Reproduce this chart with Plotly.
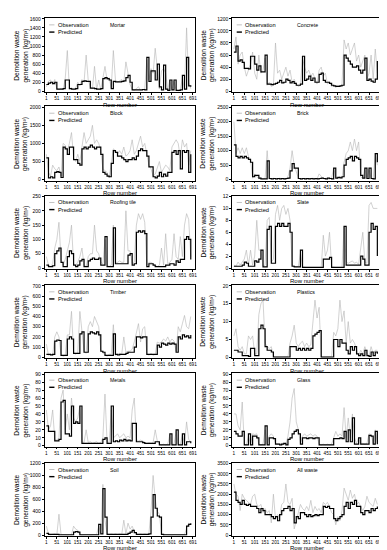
import plotly.graph_objects as go
from plotly.subplots import make_subplots

row_numbers = list(range(1, 692, 10))

mortar_pred = [150,180,200,170,200,50,50,50,60,250, 250,60,50,50,60,150,150,220,230,220, 220,70,70,60,50,50,60,280,300,280, 250,60,220,210,210,210,220,230,300,350, 200,30,30,30,30,30,40,30,750,220, 450,450,250,600,100,30,580,50,20,250, 30,250,20,20,30,350,50,750,120,100]
mortar_obs = [100,220,250,150,260,60,40,70,30,280, 900,50,80,30,70,200,120,260,200,800, 240,100,50,550,40,250,30,320,550,250, 300,80,900,250,200,230,260,200,650,400, 150,40,20,60,100,20,30,50,700,250, 500,400,950,550,50,450,500,400,30,250, 20,220,30,10,40,300,30,1400,200,60]

concrete_pred = [650,750,500,520,480,380,380,370,580,580, 450,350,420,320,320,600,120,120,110,120, 130,150,180,140,150,200,180,140,160,130, 100,100,120,580,180,200,250,180,220,150, 150,280,300,180,150,150,130,100,90,80, 80,90,100,600,550,500,450,400,400,420, 350,300,350,550,180,200,170,150,200,500]
concrete_obs = [700,900,450,600,650,400,250,350,450,650, 300,200,600,300,350,550,100,150,80,100, 800,300,350,200,300,400,250,350,150,200, 120,80,100,550,400,300,350,250,300,200, 120,350,400,250,300,120,150,80,100,60, 100,80,120,850,700,800,600,700,800,500, 600,400,500,600,200,300,600,200,700,300]

block_pred = [600,50,80,50,200,220,200,60,900,850, 700,900,900,550,550,450,400,850,900,850, 900,950,900,850,900,900,700,200,150,100, 80,450,800,750,650,650,600,550,500,550, 550,600,550,650,800,850,800,800,650,350, 350,80,50,100,200,80,150,100,200,200, 750,800,700,800,300,800,750,800,200,700]
block_obs = [700,200,100,400,300,250,350,100,1000,950, 800,1000,1300,600,500,700,500,900,1300,1000, 1100,1200,1500,1000,1100,1000,800,300,250,200, 50,500,850,800,700,800,700,900,650,700, 800,1100,700,800,1000,1200,900,1000,700,400, 300,100,150,300,500,200,300,400,350,250, 900,1000,1100,1000,600,1100,900,1000,400,800]

brick_pred = [1200,800,750,800,750,800,750,700,600,100, 150,150,50,30,30,30,650,40,30,40, 30,40,30,40,30,40,50,300,550,400, 400,40,30,40,30,40,30,40,30,40, 30,40,50,40,30,50,40,30,400,50, 80,60,100,500,700,750,800,650,800,750, 700,150,50,400,40,400,40,30,900,600]
brick_obs = [2000,900,1100,900,1100,900,1100,800,700,50, 200,100,30,50,20,40,1000,30,20,50, 30,20,50,30,20,30,100,400,1000,500, 300,50,20,30,40,20,30,30,50,30, 20,200,100,30,40,30,20,50,400,100, 60,100,50,600,900,1000,1300,1000,1400,1000, 1300,100,30,400,30,350,50,20,900,500]

roof_pred = [10,5,5,8,50,60,70,20,5,5, 40,60,50,10,5,10,25,30,5,5, 25,30,35,30,30,35,10,10,110,5, 5,5,140,15,15,15,15,15,15,45, 50,10,15,125,130,125,130,120,5,15, 15,10,5,5,5,5,5,10,10,15, 15,10,25,20,30,30,100,110,100,30]
roof_obs = [40,10,5,15,70,100,160,30,10,30, 60,90,150,15,10,20,40,70,10,5, 40,50,50,150,60,50,20,15,100,10, 5,10,150,20,20,25,20,20,200,60, 60,15,20,150,190,170,190,160,10,20, 20,15,10,5,10,70,10,120,15,20, 30,120,40,30,110,40,150,190,170,40]

slate_pred = [0.3,0.3,0.3,0.3,0.5,1,0.8,0.3,0.3,0.3, 1.2,1,1.5,3,0.2,0.2,6.5,7,0.8,0.8, 7,7.5,7,7.5,7,7,7.5,6,0.3,0.2, 0.2,0.2,3,0.1,0.1,0.1,0.1,0.1,0.1,0.1, 0.1,0.1,0.1,1.5,1.5,1.5,1.8,0.1,0.1,0.1, 0.1,0.1,0.1,7,0.5,0.5,0.5,0.5,0.5,0.5, 0.5,2,1.5,0.5,0.5,6,7.5,6.5,7,2]
slate_obs = [0.5,0.3,1,0.5,1,1.5,3,0.5,3,0.5, 2,8,3,3,0.3,0.5,8,8.5,1,1.5, 9,10.5,8,10,10.5,9,10,8,0.5,0.3, 0.2,0.3,2.5,0.2,0.1,0.1,0.1,0.1,0.1,0.1, 0.1,0.1,0.1,5.5,2,3,6,0.2,0.1,0.1, 0.1,0.1,0.1,7,1,0.8,1,1.2,0.8,1, 0.6,3,6,1,0.8,10.5,11,10,10,10]

timber_pred = [30,30,25,30,160,170,165,20,20,20, 180,200,180,40,40,40,230,250,50,50, 230,250,240,230,250,220,60,50,20,20, 20,20,230,30,25,30,30,30,40,50, 50,50,100,200,200,190,200,200,30,30, 30,30,30,120,100,140,130,120,140,130, 140,130,50,200,180,220,200,210,190,220]
timber_obs = [130,20,30,20,200,250,200,30,10,20, 220,220,450,50,30,50,450,260,60,40, 300,350,300,400,350,300,80,40,30,10, 30,30,320,20,30,40,30,200,50,60, 60,80,150,250,330,150,280,300,40,20, 40,20,30,150,140,150,180,160,200,150, 180,160,60,300,250,330,410,300,280,400]

plastics_pred = [2,2,1.5,1.5,0.5,0.5,0.5,0.3,2.5,2.5, 0.5,0.5,8,9,8,3,2,2,1.5,0.1, 0.1,0.1,0.1,0.1,0.1,0.1,0.1,3,3,3, 2,2.5,2,2.5,2,2.5,2,2.5,6,6.5, 7,7.5,0.1,0.1,0.1,0.1,0.1,0.1,5,5, 3,5,4,4,2,1,3,2,3,1, 0.5,1,0.5,2,0.5,0.3,1.5,0.5,1.5,1]
plastics_obs = [6,8,3,2,3,1,1,6,5,6, 1,1,12,15,16,4,3,2.5,3,0.2, 0.1,0.1,0.1,0.1,0.1,0.1,0.2,4,6,9, 4,3,4,4.5,3,4,3,3.5,10,16, 11,14,0.1,0.1,0.1,0.1,0.1,0.2,7,6, 8,16,10,13,4,10,4,5,4,2, 0.5,2,1,3,1,0.5,3,1,2,2]

metals_pred = [25,18,18,18,6,6,8,55,57,15, 15,12,50,28,30,28,50,3,3,3, 3,3,3,3,3,3,3,8,10,3, 3,50,5,6,5,7,6,8,6,7, 6,28,28,5,5,5,4,3,3,3, 3,3,5,5,1,1,1,1,1,15, 1,1,20,1,1,15,1,5,5,3]
metals_obs = [45,20,25,45,8,7,10,60,70,20, 40,20,60,35,30,35,50,5,4,20, 4,5,3,4,5,3,4,10,65,5, 4,45,10,12,15,10,12,15,10,12, 10,45,60,8,6,7,6,4,3,4, 3,4,20,6,2,1,2,1,2,14, 1,2,18,1,2,14,2,30,8,5]

glass_pred = [18,15,12,12,18,1,1,15,1,12, 12,10,1,1,1,25,1,10,10,9, 2,2,1,2,3,1,8,10,15,18, 20,15,2,10,10,9,10,10,9,10, 10,1,1,1,1,1,1,1,9,9, 9,10,9,18,5,20,5,35,2,2, 10,2,2,2,2,13,12,2,18,2]
glass_obs = [40,40,25,20,55,2,1,12,2,15, 14,15,2,1,2,20,2,12,15,12, 3,2,2,3,3,2,12,30,60,72, 30,20,3,12,15,12,14,15,12,14, 12,2,1,2,1,2,1,2,10,18, 12,15,12,48,10,35,10,40,10,3, 10,2,3,2,3,15,14,3,20,3]

soil_pred = [30,10,10,10,10,10,5,5,5,5, 5,5,5,50,60,50,5,5,5,5, 5,5,5,5,5,180,20,780,300,10, 10,10,10,10,10,10,10,10,10,30, 50,80,40,10,10,10,10,10,10,20, 300,680,450,320,300,10,5,5,5,5, 5,5,5,5,5,5,5,150,180,200]
soil_obs = [150,20,5,10,20,5,350,10,5,10, 5,10,5,150,100,80,10,5,10,5, 10,5,10,5,10,150,30,850,250,20, 10,20,10,20,10,20,10,250,20,200, 100,150,60,20,10,20,10,20,10,30, 400,1000,600,400,350,20,5,10,5,10, 5,10,5,10,5,10,5,120,200,180]

all_pred = [2100,1700,1600,1500,1700,1500,1450,1500,1400,1400, 1400,1300,1100,1300,1200,1000,1000,1000,900,800, 900,700,1000,1200,1300,1300,1400,1200,1300,600, 900,800,1100,1100,1000,900,1000,900,950,1000, 950,1000,1000,1400,1350,1400,1300,1300,800,700, 800,900,1000,1400,1600,1300,1600,1500,1700,1400, 1400,1100,1000,1200,1200,1100,1300,1200,1300,1400]
all_obs = [2500,2000,1900,1200,2000,1800,1700,1600,1500,1900, 2000,1500,1400,1500,1100,1300,1100,1200,600,2000, 800,1000,900,1500,1600,2500,1600,1500,1800,300, 700,1000,1500,1300,1200,1400,1200,1700,1100,1400, 1200,1300,1100,1600,1500,1600,1400,1100,1000,500, 900,700,1200,2300,2000,1700,2200,1800,2000,1500, 1600,1400,1200,1400,1900,1600,1500,1400,1800,1500]

x_tick_vals = [1, 51, 101, 151, 201, 251, 301, 351, 401, 451, 501, 551, 601, 651, 701]
x_tick_head = ["1", "51", "101", "151", "201", "251", "301", "351", "401", "451",
               "501", "551", "601", "651"]

panels = [
    ("Mortar", mortar_obs, mortar_pred, 1600, 200, "691"),
    ("Concrete", concrete_obs, concrete_pred, 1200, 200, "694"),
    ("Block", block_obs, block_pred, 2000, 500, "691"),
    ("Brick", brick_obs, brick_pred, 2500, 500, "691"),
    ("Roofing tile", roof_obs, roof_pred, 250, 50, "691"),
    ("Slate", slate_obs, slate_pred, 12, 2, "694"),
    ("Timber", timber_obs, timber_pred, 700, 100, "691"),
    ("Plastics", plastics_obs, plastics_pred, 20, 5, "694"),
    ("Metals", metals_obs, metals_pred, 90, 10, "691"),
    ("Glass", glass_obs, glass_pred, 90, 10, "694"),
    ("Soil", soil_obs, soil_pred, 1200, 200, "691"),
    ("All waste", all_obs, all_pred, 3500, 500, "691"),
]

W, H = 387, 550
FONT = "Liberation Sans, Arial, sans-serif"
OBS_COLOR = "#b4b4b4"
tops = [8, 97, 187, 277, 366, 456]
bottoms = [83, 172, 261, 351, 440, 530]
xdom = {1: [37 / W, 188 / W], 2: [226 / W, 376 / W]}
ytitle_x = {1: 13.5 / W, 2: 201.5 / W}

fig = make_subplots(rows=6, cols=2)
annotations = []
shapes = []

for idx, (name, obs, pred, ymax, dtick, last_label) in enumerate(panels):
    r = idx // 2 + 1
    c = idx % 2 + 1
    k = idx + 1
    sfx = "" if k == 1 else str(k)
    fig.add_trace(go.Scatter(x=row_numbers, y=obs, mode="lines",
                             line=dict(color=OBS_COLOR, width=0.6),
                             showlegend=False), row=r, col=c)
    fig.add_trace(go.Scatter(x=row_numbers, y=pred, mode="lines",
                             line=dict(color="black", width=1.2, shape="hv"),
                             showlegend=False), row=r, col=c)
    yt = list(range(0, ymax + 1, dtick))
    fig.layout["xaxis" + sfx].update(
        domain=xdom[c], range=[-7, 709], tickmode="array", tickvals=x_tick_vals,
        ticktext=x_tick_head + [last_label], tickangle=0, showline=True, mirror=True,
        linecolor="black", linewidth=0.8, ticks="outside", ticklen=1.5,
        tickwidth=0.6, tickcolor="black", showgrid=False, zeroline=False,
        ticklabeloverflow="allow",
        tickfont=dict(size=4.7, family=FONT, color="black"))
    fig.layout["yaxis" + sfx].update(
        domain=[1 - bottoms[r - 1] / H, 1 - tops[r - 1] / H],
        range=[-0.015 * ymax, 1.012 * ymax], tickmode="array", tickvals=yt,
        ticktext=[str(v) for v in yt], tickangle=0, showline=True, mirror=True,
        linecolor="black", linewidth=0.8, ticks="outside", ticklen=2,
        tickwidth=0.6, tickcolor="black", showgrid=False, zeroline=False,
        ticklabeloverflow="allow",
        tickfont=dict(size=5, family=FONT, color="black"))
    xr = "x" + sfx + " domain"
    yr = "y" + sfx + " domain"
    fnt = dict(size=5.7, family=FONT, color="black")
    annotations += [
        dict(text=name, x=0.42, y=0.907, xref=xr, yref=yr, xanchor="left",
             yanchor="middle", showarrow=False, font=dict(size=5.2, family=FONT, color="black")),
        dict(text="Observation", x=0.075, y=0.907, xref=xr, yref=yr, xanchor="left",
             yanchor="middle", showarrow=False, font=fnt),
        dict(text="Predicted", x=0.075, y=0.81, xref=xr, yref=yr, xanchor="left",
             yanchor="middle", showarrow=False, font=fnt),
        dict(text="Row number", x=0.5, y=-0.165, xref=xr, yref=yr, xanchor="center",
             yanchor="middle", showarrow=False, font=dict(size=6, family=FONT, color="black")),
        dict(text="Demolition waste<br>generation (kg/m³)", x=ytitle_x[c], y=0.5,
             xref="paper", yref=yr, xanchor="center", yanchor="middle",
             textangle=-90, showarrow=False,
             font=dict(size=6.6, family=FONT, color="black")),
    ]
    shapes += [
        dict(type="line", xref=xr, yref=yr, x0=0.03, x1=0.065, y0=0.907, y1=0.907,
             line=dict(color=OBS_COLOR, width=0.8)),
        dict(type="line", xref=xr, yref=yr, x0=0.03, x1=0.065, y0=0.81, y1=0.81,
             line=dict(color="black", width=1.4)),
    ]

fig.update_layout(width=W, height=H, margin=dict(l=0, r=0, t=0, b=0),
                  plot_bgcolor="white", paper_bgcolor="white",
                  showlegend=False, annotations=annotations, shapes=shapes,
                  font=dict(family=FONT, color="black"))
fig.write_html("out.html")
